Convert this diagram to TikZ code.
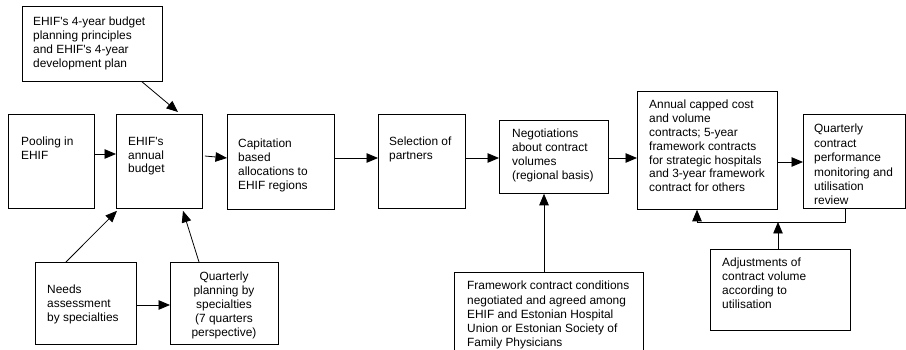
\documentclass[tikz,border=0pt]{standalone}
\usepackage{fontspec}
\setmainfont{Liberation Sans}
\usetikzlibrary{arrows.meta,calc}
\tikzset{
  box/.style={draw, line width=0.8pt, inner sep=0pt, anchor=north west},
  txt/.style={inner sep=0pt, anchor=north west, align=left,
              font=\fontsize{11.9}{13.8}\selectfont},
  arr/.style={draw, line width=0.8pt, -{Triangle[length=11.5pt,width=9.5pt]}},
}
\newcommand{\bx}[5]{\node[box, minimum width=#4pt, minimum height=#5pt] (#1) at (#2,#3) {};}
\begin{document}
\begin{tikzpicture}[x=1pt,y=-1pt]
\fill[white] (0,0) rectangle (906,350);
\useasboundingbox (0,0) rectangle (906,350);
% boxes
\bx{top}{22}{6}{140}{75}
\bx{pool}{8}{114}{86}{94}
\bx{bud}{116}{114}{86}{94}
\bx{cap}{227}{114}{107}{95}
\bx{sel}{378}{114}{87}{94}
\bx{neg}{499}{120}{109}{73}
\bx{ann}{637}{91}{140}{118}
\bx{qc}{803}{114}{102}{94}
\bx{needs}{35}{262}{101}{82}
\bx{qp}{170}{262}{108}{82}
\bx{fw}{454}{272}{189}{95}
\bx{adj}{710}{249}{140}{81}
% texts
\node[txt] (topt) at (33,17) {EHIF\textquotesingle s 4-year budget\\planning principles\\and EHIF\textquotesingle s 4-year\\development plan};
\node[txt] (poolt) at (21,137) {Pooling in\\EHIF};
\node[txt] (budt) at (128,137) {EHIF\textquotesingle s\\annual\\budget};
\node[txt] (capt) at (238,139) {Capitation\\based\\allocations to\\EHIF regions};
\node[txt] (selt) at (389,137) {Selection of\\partners};
\node[txt] (negt) at (512,129) {Negotiations\\about contract\\volumes\\(regional basis)};
\node[txt] (annt) at (649,100) {Annual capped cost\\and volume\\contracts; 5-year\\framework contracts\\for strategic hospitals\\and 3-year framework\\contract for others};
\node[txt, font=\fontsize{11.9}{14.4}\selectfont] (qct) at (814,124) {Quarterly\\contract\\performance\\monitoring and\\utilisation\\review};
\node[txt] (needst) at (47,285) {Needs\\assessment\\by specialties};
\node[txt, anchor=north, align=center] (qpt) at (224,272) {Quarterly\\planning by\\specialties\\(7 quarters\\perspective)};
\node[txt, font=\fontsize{11.9}{14.2}\selectfont] (fwt) at (467,281) {Framework contract conditions\\negotiated and agreed among\\EHIF and Estonian Hospital\\Union or Estonian Society of\\Family Physicians};
\node[txt] (adjt) at (722,258) {Adjustments of\\contract volume\\according to\\utilisation};
% connectors
\draw[arr] ($(top.south west)+(120,0)$) -- ($(bud.north west)+(62,-2)$);
\draw[arr] ($(pool.north east)+(0,40)$) -- ($(bud.north west)+(0,40)$);
\draw[arr] ($(bud.north east)+(2,42)$) -- ($(cap.north west)+(0,44)$);
\draw[arr] ($(cap.north east)+(0,44)$) -- ($(sel.north west)+(0,44)$);
\draw[arr] ($(sel.north east)+(0,44)$) -- ($(neg.north west)+(0,38)$);
\draw[arr] ($(neg.north east)+(0,38)$) -- ($(ann.north west)+(0,67)$);
\draw[arr] ($(ann.north east)+(0,71)$) -- ($(qc.north west)+(0,48)$);
\draw[arr] ($(needs.north west)+(31,0)$) -- ($(bud.south west)+(1,2)$);
\draw[arr] ($(qp.north west)+(29,0)$) -- ($(bud.south west)+(67,2)$);
\draw[arr] ($(needs.north east)+(0,43)$) -- ($(qp.north west)+(0,43)$);
\draw[arr] ($(fw.north west)+(90,0)$) -- ($(neg.south west)+(45,0)$);
\coordinate (fbj) at ($(ann.south west)+(60,13)$);
\coordinate (fbm) at ($(adj.north west)+(68,-27)$);
\draw[arr] ($(qc.south west)+(42,0)$) |- (fbj) -- ($(ann.south west)+(60,0)$);
\draw[arr] ($(adj.north west)+(68,0)$) -- (fbm);
\end{tikzpicture}
\end{document}
